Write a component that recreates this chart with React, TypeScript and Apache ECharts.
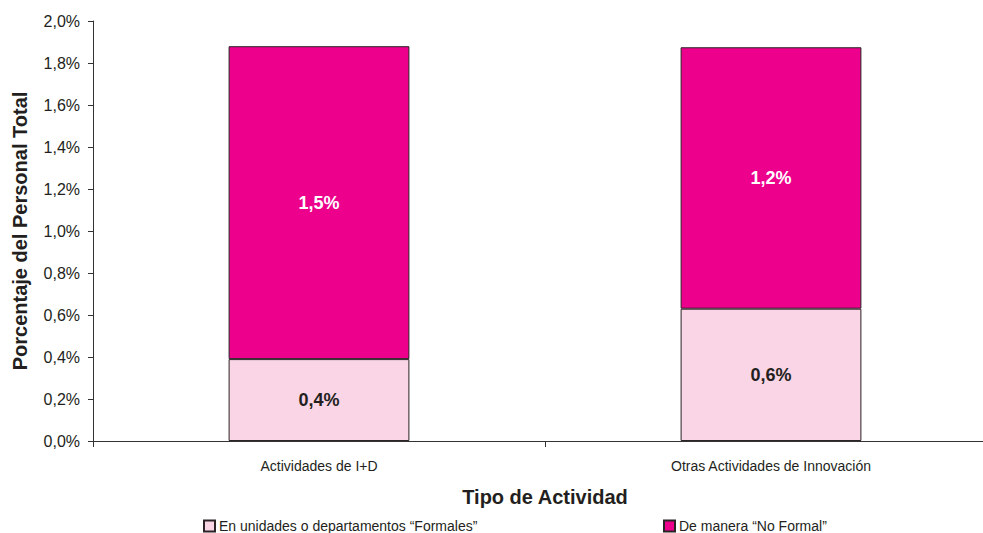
import React, { useEffect, useRef } from "react";
import * as echarts from "echarts";

const categories = ["Actividades de I+D", "Otras Actividades de Innovación"];
const formales = [0.39, 0.63];
const noFormal = [1.49, 1.245];
const formalLabels = ["0,4%", "0,6%"];
const noFormalLabels = ["1,5%", "1,2%"];
const seriesNames = ["En unidades o departamentos “Formales”", "De manera “No Formal”"];

export default function App() {
  const ref = useRef<HTMLDivElement>(null);
  useEffect(() => {
    const chart = echarts.init(ref.current!, null, { renderer: "svg" });
    const font = "'Liberation Sans', Arial, sans-serif";
    const legendCommon = {
      top: 519,
      padding: 0,
      itemWidth: 11,
      itemHeight: 11,
      itemGap: 4,
      icon: "rect",
      textStyle: { fontSize: 14, color: "#231F20", fontFamily: font, padding: [0, 0, 0, -1] },
    };
    chart.setOption({
      animation: false,
      textStyle: { fontFamily: font },
      grid: { left: 93, right: -14, top: 21, bottom: 92, outerBoundsMode: "none", containLabel: false },
      legend: [
        { ...legendCommon, data: [seriesNames[0]], left: 203 },
        { ...legendCommon, data: [seriesNames[1]], left: 663 },
      ],
      xAxis: {
        type: "category",
        data: categories,
        name: "Tipo de Actividad",
        nameLocation: "middle",
        nameGap: 46,
        nameTextStyle: { fontSize: 20, fontWeight: "bold", color: "#231F20", fontFamily: font },
        axisLine: { lineStyle: { color: "#333", width: 1 } },
        axisTick: { show: true, alignWithLabel: false, length: 6, lineStyle: { color: "#333" } },
        axisLabel: { fontSize: 14, color: "#231F20", margin: 18, fontFamily: font },
      },
      yAxis: {
        type: "value",
        min: 0,
        max: 2.0,
        interval: 0.2,
        name: "Porcentaje del Personal Total",
        nameLocation: "middle",
        nameGap: 63,
        nameRotate: 90,
        nameTextStyle: { fontSize: 20, fontWeight: "bold", color: "#231F20", fontFamily: font },
        axisLine: { show: true, lineStyle: { color: "#333", width: 1 } },
        axisTick: { show: true, length: 5, lineStyle: { color: "#333" } },
        splitLine: { show: false },
        axisLabel: {
          fontSize: 16,
          color: "#231F20",
          margin: 13,
          fontFamily: font,
          formatter: (v: number) => v.toFixed(1).replace(".", ",") + "%",
        },
      },
      series: [
        {
          name: seriesNames[0],
          type: "bar",
          stack: "total",
          barWidth: "40%",
          data: formales,
          itemStyle: { color: "#F9D5E5", borderColor: "#2b2326", borderWidth: 1 },
          label: {
            show: true,
            position: "inside",
            formatter: (p: any) => formalLabels[p.dataIndex],
            fontSize: 18,
            fontWeight: "bold",
            color: "#231F20",
            fontFamily: font,
          },
        },
        {
          name: seriesNames[1],
          type: "bar",
          stack: "total",
          barWidth: "40%",
          data: noFormal,
          itemStyle: { color: "#EC008C", borderColor: "#2b2326", borderWidth: 1 },
          label: {
            show: true,
            position: "inside",
            formatter: (p: any) => noFormalLabels[p.dataIndex],
            fontSize: 18,
            fontWeight: "bold",
            color: "#ffffff",
            fontFamily: font,
          },
        },
      ],
    });
    return () => chart.dispose();
  }, []);
  return <div ref={ref} style={{ width: 983, height: 533, position: "absolute", left: 0, top: 0 }} />;
}
